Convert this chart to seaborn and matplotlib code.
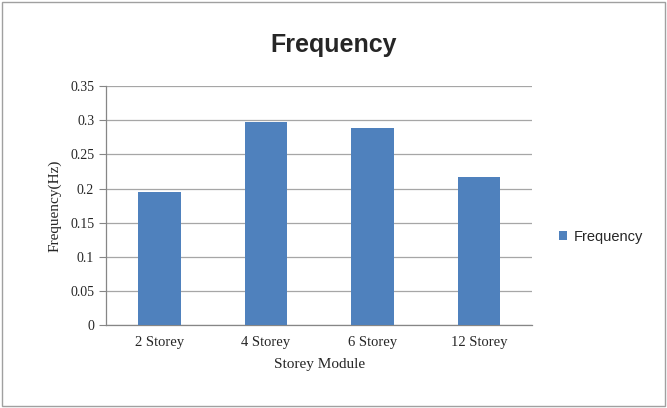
import matplotlib
matplotlib.use('Agg')
import matplotlib.pyplot as plt
import seaborn as sns
import pandas as pd
from matplotlib.patches import Rectangle, Patch

storeys = ['2 Storey', '4 Storey', '6 Storey', '12 Storey']
frequency = [0.195, 0.297, 0.288, 0.217]
y_ticks = [0, 0.05, 0.1, 0.15, 0.2, 0.25, 0.3, 0.35]
y_labels = ['0', '0.05', '0.1', '0.15', '0.2', '0.25', '0.3', '0.35']

df = pd.DataFrame({'Storey Module': storeys, 'Frequency': frequency})

sns.set_style('white')
bar_color = '#4F81BD'

fig = plt.figure(figsize=(6.67, 4.08), dpi=100)
ax = fig.add_axes([0.159, 0.203, 0.639, 0.586])

sns.barplot(x='Storey Module', y='Frequency', data=df, color=bar_color,
            width=0.4, saturation=1, ax=ax, zorder=3, linewidth=0, edgecolor='none')

ax.set_ylim(0, 0.35)
ax.set_xlim(-0.5, 3.5)
ax.set_yticks(y_ticks)
ax.set_yticklabels(y_labels, fontfamily='Liberation Serif', fontsize=10)
ax.set_xticks(range(len(storeys)))
ax.set_xticklabels(storeys, fontfamily='Liberation Serif', fontsize=10.5)
ax.set_xticks([-0.5, 0.5, 1.5, 2.5, 3.5], minor=True)
ax.tick_params(axis='x', which='major', length=0, pad=8)
ax.tick_params(axis='x', which='minor', length=5, color='#868686', direction='out')
ax.tick_params(axis='y', length=5, color='#868686', direction='out', left=True)
ax.yaxis.grid(True, color='#a6a6a6', linewidth=0.9, zorder=0)
ax.set_axisbelow(True)

for s in ['top', 'right']:
    ax.spines[s].set_visible(False)
for s in ['left', 'bottom']:
    ax.spines[s].set_color('#868686')
    ax.spines[s].set_linewidth(0.9)

ax.set_xlabel('Storey Module', fontfamily='Liberation Serif', fontsize=11, labelpad=6)
ax.set_ylabel('Frequency(Hz)', fontfamily='Liberation Serif', fontsize=11, labelpad=6)

fig.text(0.5, 0.89, 'Frequency', ha='center', va='center', fontsize=18,
         fontweight='bold', fontfamily='Liberation Sans')

handles = [Patch(facecolor=bar_color, edgecolor='none')]
fig.legend(handles, ['Frequency'], loc='center left', bbox_to_anchor=(0.818, 0.42),
           frameon=False, handlelength=0.6, handleheight=0.6, handletextpad=0.4,
           prop={'family': 'Liberation Sans', 'size': 10.5})

fig.patches.append(Rectangle((0.003, 0.005), 0.994, 0.99, transform=fig.transFigure,
                             fill=False, edgecolor='#a0a0a0', linewidth=1))

fig.savefig('out.png', dpi=100)
